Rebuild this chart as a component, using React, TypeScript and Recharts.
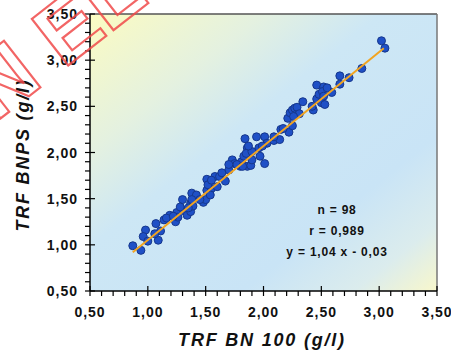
import { ScatterChart, Scatter, XAxis, YAxis, ReferenceArea, ReferenceLine } from 'recharts';

// TRF BN 100 (x) vs TRF BNPS (y), g/l
const xVals = [
  0.87, 0.94, 0.98, 0.96, 1.0, 1.07, 1.09, 1.11, 1.14, 1.19,
  1.24, 1.25, 1.26, 1.3, 1.31, 1.34, 1.37, 1.38, 1.37, 1.39,
  1.42, 1.48, 1.5, 1.51, 1.51, 1.55, 1.58, 1.6, 1.62, 1.67,
  1.7, 1.73, 1.75, 1.8, 1.81, 1.83, 1.84, 1.86, 1.85, 1.86,
  1.89, 1.9, 1.94, 1.96, 1.97, 2.01, 2.01, 2.03, 2.09, 2.14,
  2.15, 2.22, 2.21, 2.23, 2.25, 2.27, 2.29, 2.25, 2.31, 2.34,
  2.43, 2.46, 2.46, 2.48, 2.5, 2.52, 2.53, 2.51, 2.59, 2.66,
  2.66, 2.74, 2.85, 3.02, 3.05, 1.35, 1.45, 1.54, 1.64, 1.77,
  1.87, 1.82, 1.99, 2.17, 2.26, 2.42, 2.52, 2.55, 1.06, 1.16,
  1.22, 1.28, 1.38, 1.52, 1.55, 1.7, 1.9, 2.09,
];
const yVals = [
  0.99, 0.94, 1.16, 1.09, 1.04, 1.23, 1.05, 1.15, 1.27, 1.32,
  1.25, 1.35, 1.3, 1.49, 1.37, 1.32, 1.36, 1.56, 1.45, 1.42,
  1.54, 1.46, 1.49, 1.59, 1.71, 1.61, 1.74, 1.63, 1.74, 1.69,
  1.81, 1.92, 1.88, 1.85, 1.9, 1.96, 2.15, 2.05, 1.99, 1.85,
  1.86, 2.01, 2.17, 2.05, 1.96, 1.88, 2.17, 2.1, 2.13, 2.14,
  2.25, 2.22, 2.37, 2.43, 2.46, 2.48, 2.49, 2.29, 2.42, 2.55,
  2.46, 2.73, 2.58, 2.63, 2.54, 2.71, 2.52, 2.66, 2.65, 2.83,
  2.74, 2.81, 2.91, 3.21, 3.13, 1.4, 1.49, 1.54, 1.78, 1.87,
  2.07, 1.85, 2.07, 2.26, 2.39, 2.5, 2.61, 2.7, 1.12, 1.29,
  1.31, 1.41, 1.49, 1.65, 1.7, 1.87, 1.92, 2.17,
];

const axisTicks = [
  0.5, 0.6, 0.7, 0.8, 0.9, 1.0, 1.1, 1.2, 1.3, 1.4,
  1.5, 1.6, 1.7, 1.8, 1.9, 2.0, 2.1, 2.2, 2.3, 2.4,
  2.5, 2.6, 2.7, 2.8, 2.9, 3.0, 3.1, 3.2, 3.3, 3.4, 3.5,
];

const fitLine = [
  { x: 0.87, y: 0.92 },
  { x: 3.04, y: 3.13 },
];

const stats = ['n = 98', 'r = 0,989', 'y = 1,04 x - 0,03'];
const xTitle = 'TRF BN 100 (g/l)';
const yTitle = 'TRF BNPS (g/l)';
const watermark = 'N EL';

const data = xVals.map((x, i) => ({ x, y: yVals[i] }));

const FONT = '"Liberation Sans", Arial, sans-serif';

const isMajor = (v: number) => Math.abs(v * 2 - Math.round(v * 2)) < 1e-6;
const fmt = (v: number) => v.toFixed(2).replace('.', ',');

function YTick({ x, y, payload }: any) {
  const major = isMajor(payload.value);
  return (
    <g>
      <line x1={x - 5} x2={major ? x + 5 : x} y1={y} y2={y} stroke="#000" strokeWidth={1.2} />
      {major && (
        <text
          x={x - 12}
          y={y + 5}
          textAnchor="end"
          fontFamily={FONT}
          fontWeight="bold"
          fontSize={14}
          letterSpacing={1}
          fill="#111"
        >
          {fmt(payload.value)}
        </text>
      )}
    </g>
  );
}

function XTick({ x, y, payload }: any) {
  const major = isMajor(payload.value);
  return (
    <g>
      <line x1={x} x2={x} y1={major ? y - 5 : y} y2={y + 5} stroke="#000" strokeWidth={1.2} />
      {major && (
        <text
          x={x}
          y={y + 26}
          textAnchor="middle"
          fontFamily={FONT}
          fontWeight="bold"
          fontSize={14}
          letterSpacing={1}
          fill="#111"
        >
          {fmt(payload.value)}
        </text>
      )}
    </g>
  );
}

function Dot({ cx, cy }: any) {
  return <circle cx={cx} cy={cy} r={4} fill="#1f50c6" stroke="#16378c" strokeWidth={1} />;
}

export default function App() {
  return (
    <div style={{ position: 'absolute', left: 0, top: 0, width: 451, height: 352, background: '#fff' }}>
      <svg width={0} height={0} style={{ position: 'absolute' }}>
        <defs>
          <linearGradient id="plotBg" x1="0" y1="0" x2="1" y2="1">
            <stop offset="0" stopColor="#fbfbc2" />
            <stop offset="0.25" stopColor="#e4f1e0" />
            <stop offset="0.42" stopColor="#cde7f5" />
            <stop offset="0.72" stopColor="#c9e4f6" />
            <stop offset="0.88" stopColor="#dbeced" />
            <stop offset="1" stopColor="#f8f7cc" />
          </linearGradient>
        </defs>
      </svg>
      <ScatterChart width={451} height={352} margin={{ top: 14, right: 14, bottom: 0, left: 0 }}>
        <XAxis
          type="number"
          dataKey="x"
          domain={[0.5, 3.5]}
          ticks={axisTicks}
          interval={0}
          height={61}
          tickSize={0}
          tickMargin={0}
          tick={<XTick />}
          axisLine={{ stroke: '#000', strokeWidth: 1.5 }}
          tickLine={false}
        />
        <YAxis
          type="number"
          dataKey="y"
          domain={[0.5, 3.5]}
          ticks={axisTicks}
          interval={0}
          width={90}
          tickSize={0}
          tickMargin={0}
          tick={<YTick />}
          axisLine={{ stroke: '#000', strokeWidth: 1.5 }}
          tickLine={false}
        />
        <ReferenceArea x1={0.5} x2={3.5} y1={0.5} y2={3.5} fill="url(#plotBg)" fillOpacity={1} stroke="none" />
        <ReferenceLine y={3.5} stroke="#555" strokeWidth={1.5} />
        <ReferenceLine x={3.5} stroke="#777" strokeWidth={1.5} />
        <Scatter data={data} shape={<Dot />} isAnimationActive={false} />
        <Scatter
          data={fitLine}
          line={{ stroke: '#f2a420', strokeWidth: 2 }}
          shape={() => <g />}
          isAnimationActive={false}
        />
      </ScatterChart>
      <svg
        width={451}
        height={352}
        style={{ position: 'absolute', left: 0, top: 0, pointerEvents: 'none' }}
      >
        {stats.map((s, i) => (
          <text
            key={s}
            x={337}
            y={214 + i * 21}
            textAnchor="middle"
            fontFamily={FONT}
            fontWeight="bold"
            fontSize={12}
            letterSpacing={0.8}
            fill="#111"
          >
            {s}
          </text>
        ))}
        <text
          x={262}
          y={346}
          textAnchor="middle"
          fontFamily={FONT}
          fontWeight="bold"
          fontStyle="italic"
          fontSize={18}
          letterSpacing={1.8}
          fill="#111"
        >
          {xTitle}
        </text>
        <text
          x={29}
          y={155}
          transform="rotate(-90, 29, 155)"
          textAnchor="middle"
          fontFamily={FONT}
          fontWeight="bold"
          fontStyle="italic"
          fontSize={18}
          letterSpacing={1.8}
          fill="#111"
        >
          {yTitle}
        </text>
        <text
          x={-4}
          y={122}
          transform="rotate(-38, -4, 122)"
          fontFamily={FONT}
          fontWeight="bold"
          fontSize={86}
          fill="none"
          stroke="#f04a4a"
          strokeWidth={2.2}
          strokeOpacity={0.85}
        >
          {watermark}
        </text>
      </svg>
    </div>
  );
}
